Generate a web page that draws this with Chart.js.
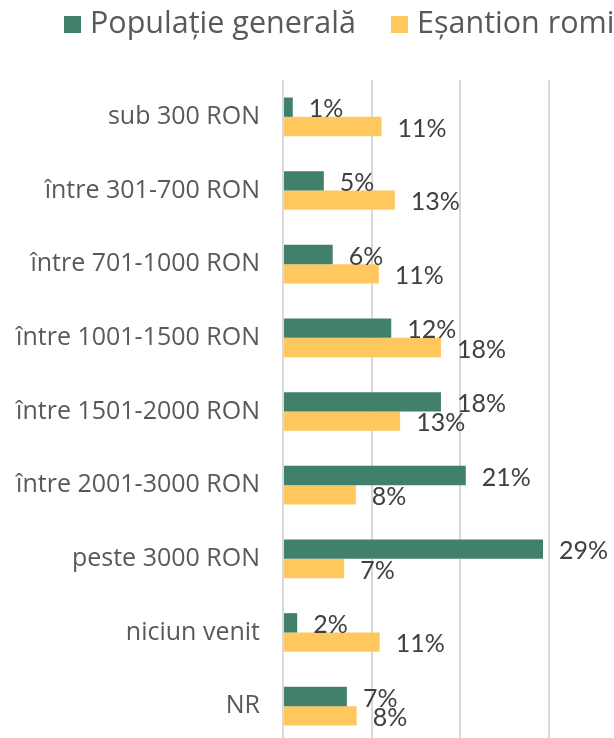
<!DOCTYPE html>
<html>
<head>
<meta charset="utf-8">
<script src="https://cdn.jsdelivr.net/npm/chart.js@4.4.3/dist/chart.umd.min.js"></script>
<style>
    html, body { margin: 0; padding: 0; background: #fff; overflow: hidden; }
    #wrap { position: relative; width: 614px; height: 743px; }
</style>
</head>
<body>
<div id="wrap"><canvas id="chart"></canvas></div>
<script>
const categories = [
    'sub 300 RON',
    'între 301-700 RON',
    'între 701-1000 RON',
    'între 1001-1500 RON',
    'între 1501-2000 RON',
    'între 2001-3000 RON',
    'peste 3000 RON',
    'niciun venit',
    'NR'
];
const seriesNames = ['Populație generală', 'Eșantion romi'];
// bar lengths (labels show them rounded)
const populatieGenerala = [1.1, 4.6, 5.6, 12.2, 17.8, 20.6, 29.3, 1.6, 7.2];
const esantionRomi = [11.1, 12.6, 10.8, 17.8, 13.2, 8.2, 6.9, 10.9, 8.3];
const seriesColors = ['#41806a', '#ffc85f'];

// value labels to the right of each bar
const valueLabels = {
    id: 'valueLabels',
    afterDatasetsDraw(chart) {
        const ctx = chart.ctx;
        ctx.save();
        ctx.font = '25px Lato';
        ctx.fillStyle = '#404040';
        ctx.textAlign = 'left';
        ctx.textBaseline = 'middle';
        chart.data.datasets.forEach((ds, i) => {
            chart.getDatasetMeta(i).data.forEach((bar, j) => {
                ctx.fillText(Math.round(ds.data[j]) + '%', bar.x + 16, bar.y + 2);
            });
        });
        ctx.restore();
    }
};

// legend drawn at top like the original
const legendX = [64, 391];
const topLegend = {
    id: 'topLegend',
    afterDraw(chart) {
        const ctx = chart.ctx;
        ctx.save();
        ctx.font = '30.5px "Open Sans"';
        ctx.textBaseline = 'middle';
        ctx.textAlign = 'left';
        chart.data.datasets.forEach((ds, i) => {
            const x = legendX[i];
            ctx.fillStyle = ds.backgroundColor;
            ctx.fillRect(x, 16, 17, 17);
            ctx.fillStyle = '#595959';
            ctx.fillText(ds.label, x + 26, 24);
        });
        ctx.restore();
    }
};

new Chart(document.getElementById('chart'), {
    type: 'bar',
    data: {
        labels: categories,
        datasets: [
            { label: seriesNames[0], data: populatieGenerala, backgroundColor: seriesColors[0] },
            { label: seriesNames[1], data: esantionRomi, backgroundColor: seriesColors[1] }
        ]
    },
    options: {
        indexAxis: 'y',
        responsive: true,
        maintainAspectRatio: false,
        animation: false,
        layout: { padding: { top: 80, left: 0, right: 0, bottom: 0 } },
        datasets: { bar: { categoryPercentage: 0.525, barPercentage: 1.0, borderWidth: 0 } },
        plugins: {
            legend: { display: false },
            tooltip: { enabled: false }
        },
        scales: {
            x: {
                min: 0,
                max: 37.3,
                ticks: { display: false, stepSize: 10 },
                afterBuildTicks: axis => { axis.ticks = axis.ticks.filter(t => t.value % 10 === 0); },
                afterFit: axis => { axis.height = 0; },
                grid: { color: '#d9d9d9', lineWidth: 2, drawTicks: false },
                border: { display: false }
            },
            y: {
                afterFit: axis => {
                    axis.width = 283;
                    axis.paddingTop = 0;
                    axis.paddingBottom = 0;
                },
                ticks: {
                    color: '#595959',
                    padding: 23,
                    font: { family: 'Open Sans', size: 25 }
                },
                grid: { display: false, drawTicks: false },
                border: { display: false }
            }
        }
    },
    plugins: [valueLabels, topLegend]
});
</script>
</body>
</html>
